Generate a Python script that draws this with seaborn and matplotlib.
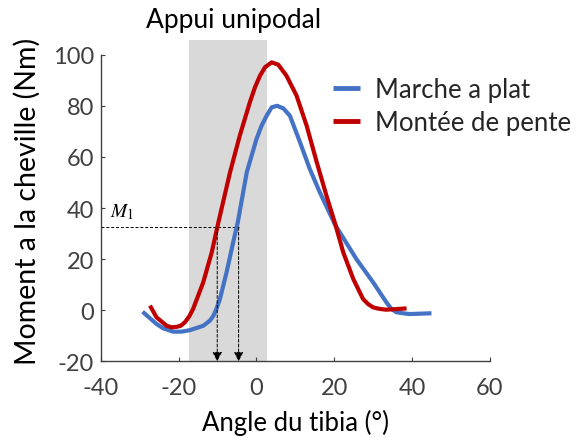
import matplotlib
matplotlib.use("Agg")
import matplotlib.pyplot as plt
import seaborn as sns
import pandas as pd

# ---- data ----
flat_angle = [-29.3, -25.7, -24.0, -21.4, -19.3, -17.1, -13.7, -12.0, -11.1, -10.3, -9.4, -7.7,
              -6.0, -4.8, -2.5, 0.0, 1.3, 2.6, 3.9, 5.3, 6.9, 8.6, 11.2, 13.7, 16.3, 20.2,
              25.7, 30.0, 33.4, 34.7, 36.0, 37.7, 39.4, 45.0]
flat_moment = [-0.6, -5.4, -7.1, -8.4, -8.4, -7.8, -6.1, -4.1, -2.2, 0.5, 4.4, 14.8,
               26.6, 34.5, 54.0, 67.0, 72.2, 76.1, 79.4, 80.0, 79.0, 76.1, 65.7, 55.3, 46.1, 33.5,
               20.0, 10.9, 3.1, 0.5, -0.8, -1.2, -1.5, -1.2]

slope_angle = [-27.4, -25.7, -23.1, -21.8, -20.5, -19.5, -18.4, -17.3, -16.3, -13.7, -11.5, -9.8,
               -6.8, -4.3, -1.7, -0.4, 0.9, 2.2, 3.9, 5.6, 7.7, 10.3, 12.9, 15.5, 18.0, 20.2,
               22.3, 24.9, 27.4, 28.7, 30.0, 31.7, 33.4, 38.6]
slope_moment = [1.8, -2.8, -6.1, -6.7, -6.5, -6.1, -4.7, -2.4, 0.5, 10.9, 22.7, 34.4,
                54.0, 68.3, 81.4, 87.2, 91.8, 95.1, 97.0, 96.1, 91.8, 84.0, 72.2, 57.9, 44.8, 34.0,
                22.7, 12.2, 4.4, 2.4, 1.1, 0.5, 0.2, 0.7]

series_names = ["Marche a plat", "Montée de pente"]
series_colors = ["#4472C4", "#C00000"]

stance_span = [-17.3, 2.6]
m1_value = 32.4
m1_angles = [-10.1, -4.6]

x_ticks = [-40, -20, 0, 20, 40, 60]
y_ticks = [-20, 0, 20, 40, 60, 80, 100]

df = pd.concat([
    pd.DataFrame({"angle": flat_angle, "moment": flat_moment, "cond": series_names[0]}),
    pd.DataFrame({"angle": slope_angle, "moment": slope_moment, "cond": series_names[1]}),
], ignore_index=True)

sns.set_style("ticks")
plt.rcParams["font.family"] = ["Lato", "DejaVu Sans"]
plt.rcParams["axes.unicode_minus"] = False

fig = plt.figure(figsize=(5.76, 4.39), dpi=100)
ax = fig.add_axes([0.1753, 0.1747, 0.675, 0.731])

ax.axvspan(stance_span[0], stance_span[1], color="#D9D9D9", lw=0, zorder=0)

sns.lineplot(data=df, x="angle", y="moment", hue="cond", palette=series_colors,
             sort=False, estimator=None, lw=3.0, ax=ax, zorder=3)
for ln in ax.lines:
    ln.set_solid_joinstyle("round")
    ln.set_solid_capstyle("butt")

# M1 dashed construction
ax.plot([x_ticks[0], max(m1_angles)], [m1_value, m1_value], color="black",
        lw=0.7, ls=(0, (3, 2)), zorder=2)
for xa in m1_angles:
    ax.annotate("", xy=(xa, y_ticks[0]), xytext=(xa, m1_value),
                arrowprops=dict(arrowstyle="-|>,head_length=0.55,head_width=0.28",
                                color="black", lw=0.7, ls=(0, (3, 2)),
                                shrinkA=0, shrinkB=0), zorder=4)
ax.text(x_ticks[0] + 2.3, m1_value + 4.3, r"$M_1$", fontsize=14, math_fontfamily="stix",
        ha="left", va="baseline", color="black")

ax.text(-6.0, 113.7, "Appui unipodal", ha="center", va="center", fontsize=19,
        color="black", clip_on=False)

ax.set_xlim(-40, 60)
ax.set_ylim(-20, 105.6)
ax.set_xticks(x_ticks)
ax.set_yticks(y_ticks)
ax.spines["left"].set_bounds(-20, 100)
for s in ["top", "right"]:
    ax.spines[s].set_visible(False)
for s in ["left", "bottom"]:
    ax.spines[s].set_color("#404040")
    ax.spines[s].set_linewidth(1.0)
ax.tick_params(axis="both", direction="in", length=3, width=0.8, color="#404040",
               labelsize=17, labelcolor="#404040")
ax.tick_params(axis="x", pad=11)
ax.tick_params(axis="y", pad=5)

ax.set_xlabel("Angle du tibia (°)", fontsize=18.5, color="black", labelpad=8)
ax.set_ylabel("Moment a la cheville (Nm)", fontsize=20.5, color="black", labelpad=9)

ax.legend(loc="upper left", bbox_to_anchor=(332.7 / 576, 1 - 78 / 439),
          bbox_transform=fig.transFigure, frameon=False, fontsize=18.5,
          handlelength=1.05, handletextpad=0.6, labelspacing=0.3,
          borderpad=0, borderaxespad=0)
for h in ax.get_legend().get_lines():
    h.set_linewidth(3.5)

fig.savefig("out.png", dpi=100)
